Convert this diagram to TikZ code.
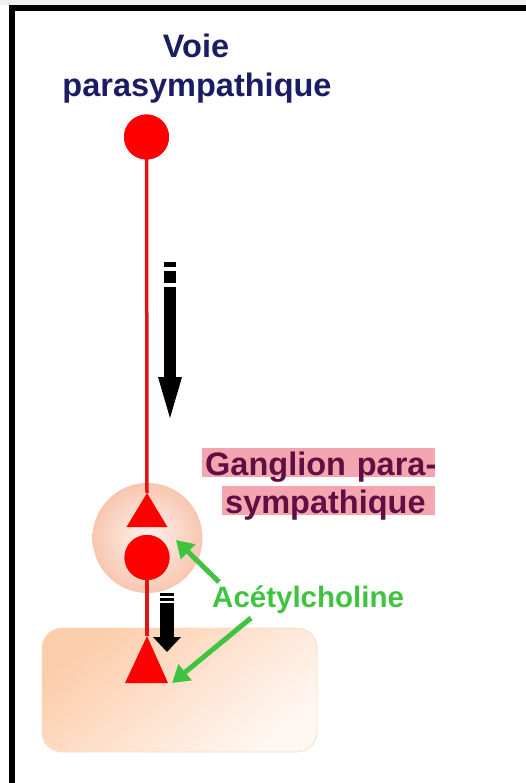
\documentclass[tikz,border=0pt]{standalone}
\usepackage{fontspec}
\setmainfont{Liberation Sans}
\usetikzlibrary{arrows.meta}
\definecolor{navy}{RGB}{28,28,100}
\definecolor{nred}{RGB}{255,0,0}
\definecolor{lred}{RGB}{225,20,20}
\definecolor{maroonx}{RGB}{95,15,65}
\definecolor{pinkhl}{RGB}{244,166,176}
\definecolor{greenac}{RGB}{64,196,64}
\definecolor{peach}{RGB}{252,205,170}
\definecolor{peachlight}{RGB}{255,247,242}
\definecolor{gangout}{RGB}{248,198,176}
\definecolor{gangin}{RGB}{255,244,238}
\begin{document}
\begin{tikzpicture}[x=1pt,y=-1pt,
  bigfont/.style={font=\bfseries\fontsize{32.5}{40}\selectfont},
  hl/.style={bigfont,text=maroonx,fill=pinkhl,inner xsep=0pt,inner ysep=0pt,
    text height=27pt,text depth=2pt,anchor=base west,align=left},
  neuron/.style={fill=nred},
  axon/.style={draw=lred,line width=3.5pt},
  ach/.style={draw=greenac,line width=5pt,-{Triangle[length=17pt,width=20pt]}},
  blk/.style={fill=black}]
\useasboundingbox (0,0) rectangle (526,783);
\fill[white] (0,0) rectangle (526,783);
\fill[gray!12] (0,0) rectangle (526,5);
% frame
\fill[black] (9,5) rectangle (526,11);
\fill[black] (9,5) rectangle (15,783);

% title
\node[bigfont,text=navy,anchor=base] (title1) at (196,57.5) {Voie};
\node[bigfont,text=navy,anchor=base] (title2) at (197,97) {parasympathique};

% effector tissue
\shade[top color=peach,bottom color=peachlight,shading angle=40,rounded corners=20pt]
  (42,628) rectangle (317,752);
\draw[draw=peach!70,line width=0.8pt,rounded corners=20pt] (42,628) rectangle (317,752);
\node[inner sep=0pt,minimum width=275pt,minimum height=124pt] (tissue) at (179.5,690) {};

% ganglion
\shade[inner color=gangin,outer color=gangout] (147.5,538) circle (55);
\node[circle,inner sep=0pt,minimum size=110pt] (ganglion) at (147.5,538) {};

% neurons
\node[neuron,circle,inner sep=0pt,minimum size=45pt] (c1) at (146.5,137) {};
\node[neuron,circle,inner sep=0pt,minimum size=45pt] (c2) at (147,557.5) {};
\coordinate (t1) at (147,493);
\coordinate (t2) at (147,636);
\draw[axon] (c1.center) -- (t1);
\draw[axon] (c2.center) -- (t2);
\fill[nred] (t1) -- (167.5,527) -- (126.5,527) -- cycle;
\fill[nred] (t2) -- (168,683) -- (125,683) -- cycle;
\node[neuron,circle,inner sep=0pt,minimum size=45pt] at (c2) {};
\node[neuron,circle,inner sep=0pt,minimum size=45pt] at (c1) {};

% black arrows (direction of the influx)
\fill[blk] (164,262) rectangle (176,267);
\fill[blk] (164,271) rectangle (176,283);
\fill[blk] (164,287) rectangle (176,380);
\fill[blk] (158,377) -- (182,377) -- (170,418) -- cycle;

\fill[blk] (160,593) rectangle (174,596);
\fill[blk] (160,598) rectangle (174,601);
\fill[blk] (160,603) rectangle (174,639);
\fill[blk] (153,637) -- (181,637) -- (167,652) -- cycle;

% ganglion label
\node[hl,text width=233pt] (glab1) at (202,475) {\hspace*{3pt}\mbox{Ganglion para-}};
\node[hl,text width=213pt] (glab2) at (222,513) {\hspace*{3pt}\mbox{sympathique}};

% acetylcholine
\node[font=\bfseries\fontsize{29.5}{34}\selectfont,text=greenac,anchor=base west,inner sep=0pt]
  (ach) at (212,607) {Acétylcholine};
\coordinate (a1s) at (219,582);
\coordinate (a1e) at (176,540);
\coordinate (a2s) at (251,618);
\coordinate (a2e) at (172,683);
\draw[ach] (a1s) -- (a1e);
\draw[ach] (a2s) -- (a2e);
\end{tikzpicture}
\end{document}
